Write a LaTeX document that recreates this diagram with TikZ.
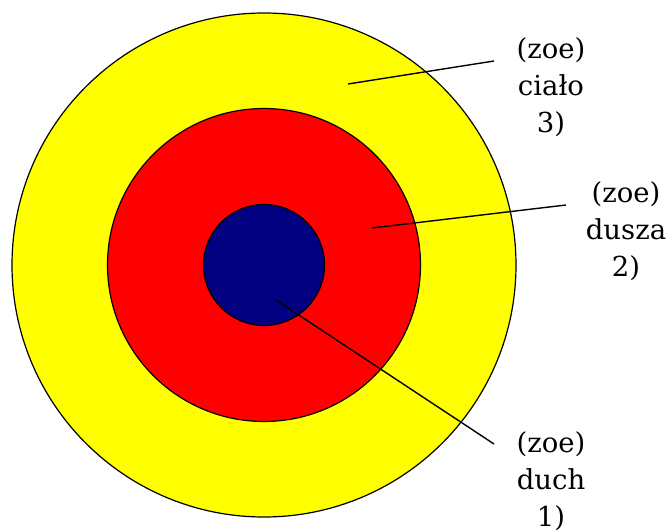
\documentclass[tikz,border=0pt]{standalone}
\usepackage{fontspec}
\setmainfont{DejaVu Serif}
\usepackage{xcolor}
\usetikzlibrary{positioning}
\definecolor{ringyellow}{HTML}{FFFF00}
\definecolor{ringred}{HTML}{FF0000}
\definecolor{corenavy}{HTML}{000080}

\begin{document}
\begin{tikzpicture}[
  x=1pt, y=-1pt,
  ring/.style={circle, draw=black, line width=1.2pt, inner sep=0pt},
  lbl/.style={align=center, inner sep=0pt, font=\fontsize{27.5}{37}\selectfont},
  leader/.style={draw=black, line width=1.4pt},
]
\useasboundingbox (0,0) rectangle (670,532);

% the three rings, outside in
\node[ring, fill=ringyellow, minimum size=504pt] (body)   at (264,265) {};
\node[ring, fill=ringred,    minimum size=313pt] (soul)   at (264,265) {};
\node[ring, fill=corenavy,   minimum size=121pt] (spirit) at (264,265) {};

% labels on the right
\node[lbl] (lbody)   at (551,87)  {(zoe)\\ciało\\3)};
\node[lbl] (lsoul)   at (626,231) {(zoe)\\dusza\\2)};
\node[lbl] (lspirit) at (551,481) {(zoe)\\duch\\1)};

% leader lines
\coordinate (pbody)   at (348,84);
\coordinate (psoul)   at (372,228);
\coordinate (pspirit) at (276,300);
\coordinate (ebody)   at (494,61);
\coordinate (esoul)   at (566,205);
\coordinate (espirit) at (494,444);
\draw[leader] (pbody) -- (ebody);
\draw[leader] (psoul) -- (esoul);
\draw[leader] (pspirit) -- (espirit);
\end{tikzpicture}
\end{document}
